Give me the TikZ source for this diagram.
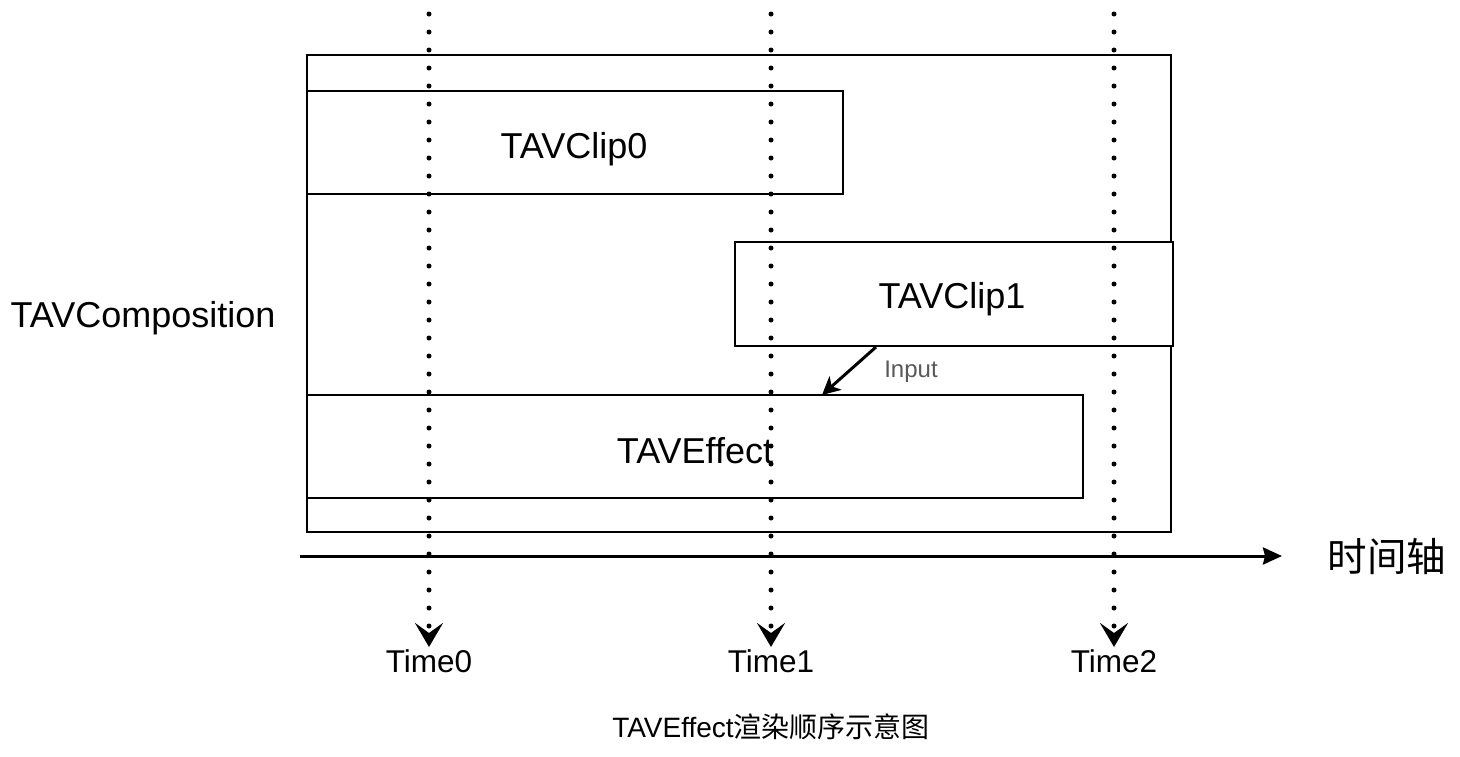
\documentclass[tikz,border=0pt]{standalone}
\usepackage{fontspec}
\setmainfont{Liberation Sans}
\newfontfamily\cjk{Noto Sans CJK SC}
\usetikzlibrary{arrows.meta}
\tikzset{
  box/.style={draw, line width=2pt, fill=white, inner sep=0pt},
  big/.style={font=\fontsize{36}{40}\selectfont},
  tl/.style={font=\fontsize{31.5}{34}\selectfont},
  dotline/.style={line width=5pt, line cap=round, dash pattern=on 0pt off 18pt,
    -{Stealth[length=24pt,width=28pt,inset=10pt,line cap=butt]}},
}
\begin{document}
\begin{tikzpicture}[x=1pt,y=-1pt]
\useasboundingbox[fill=white] (0,0) rectangle (1460,756);
% composition frame
\draw[box] (307,55) rectangle (1171,532);
\node[big] (comp) at (143,318) {TAVComposition};
% clips
\draw[box] (307,91) rectangle (843,194);
\node[big] (clip0) at (574,149) {TAVClip0};
\draw[box] (735,242) rectangle (1173,346);
\node[big] (clip1) at (952,299) {TAVClip1};
\draw[box] (307,395) rectangle (1083,498);
\node[big] (eff) at (695,451) {TAVEffect};
% input arrow
\coordinate (ins) at (876,347);
\coordinate (ine) at (822,395);
\draw[line width=3pt, -{Stealth[length=18pt,width=18pt,inset=5pt]}] (ins) -- (ine);
\node[font=\fontsize{24}{27}\selectfont, text=black!65] (inp) at (911,372) {Input};
% time axis
\coordinate (ax0) at (300,556);
\coordinate (ax1) at (1282,556);
\draw[line width=3pt, -{Stealth[length=19pt,width=17pt,inset=2pt]}] (ax0) -- (ax1);
\node[font=\cjk\fontsize{39.5}{42}\selectfont] (axl) at (1387,556) {时间轴};
% time lines
\foreach \x/\n in {429/0, 771/1, 1114/2}{
  \coordinate (t\n top) at (\x,14);
  \coordinate (t\n bot) at (\x,647);
  \draw[dotline] (t\n top) -- (t\n bot);
  \node[tl] (time\n) at (\x,661) {Time\n};
}
% title
\node[font=\fontsize{28}{32}\selectfont] (title) at (771,727) {TAVEffect{\cjk 渲染顺序示意图}};
\end{tikzpicture}
\end{document}
